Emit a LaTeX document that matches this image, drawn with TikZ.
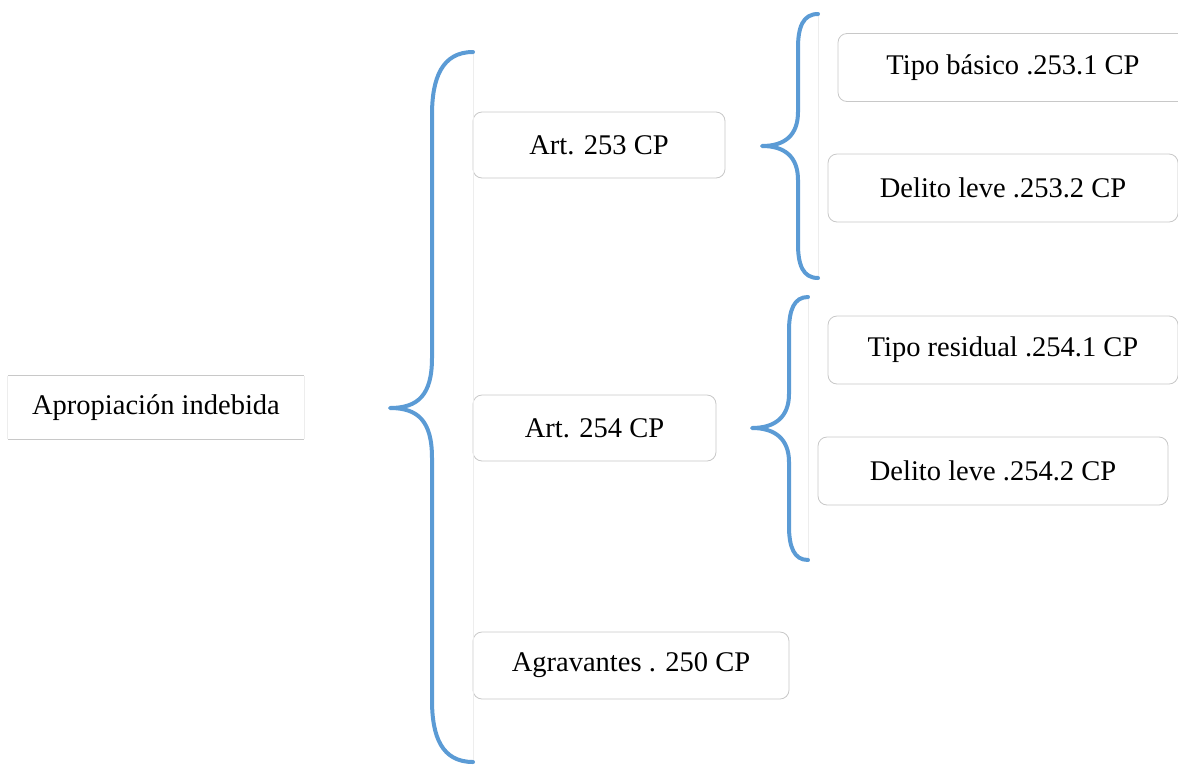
\documentclass[tikz,border=0pt]{standalone}
\usepackage{fontspec}
\setmainfont{Liberation Serif}
\definecolor{braceblue}{HTML}{5B9BD5}
\definecolor{boxline}{HTML}{C8C8C8}
\definecolor{guideline}{HTML}{EDEDED}
\begin{document}
\begin{tikzpicture}[x=1pt,y=-1pt,
  txt/.style={font=\fontsize{28.5}{32}\selectfont, text=black},
  item/.style={txt, draw=boxline, line width=0.8pt, rounded corners=9pt, fill=white, inner sep=0pt},
  curly/.style={draw=braceblue, line width=4pt, line cap=round, line join=round},
  guide/.style={draw=guideline, line width=1pt}]
\useasboundingbox (0,0) rectangle (1178,764);

% root label: open box with top and bottom rules
\node[txt, minimum width=296pt, minimum height=63pt, inner sep=0pt] (root) at (156,407.5) {Apropiación indebida};
\draw[guideline, line width=0.8pt] (root.north west) -- (root.south west) (root.north east) -- (root.south east);
\draw[boxline, line width=1pt] (root.north west) -- (root.north east) (root.south west) -- (root.south east);

% second level
\node[item, minimum width=252pt, minimum height=66pt] (a253) at (599,145) {Art. 253 CP};
\node[item, minimum width=243pt, minimum height=66pt] (a254) at (594.5,428) {Art. 254 CP};
\node[item, minimum width=316pt, minimum height=67pt] (agr) at (631,665.5) {Agravantes . 250 CP};

% third level
\node[item, minimum width=350pt, minimum height=68pt] (t1) at (1013,67.5) {Tipo básico .253.1 CP};
\node[item, minimum width=350pt, minimum height=68pt] (t2) at (1003,188) {Delito leve .253.2 CP};
\node[item, minimum width=350pt, minimum height=68pt] (t3) at (1003,350) {Tipo residual .254.1 CP};
\node[item, minimum width=350pt, minimum height=68pt] (t4) at (993,471) {Delito leve .254.2 CP};

% brace anchors
\coordinate (b0top) at (473,52);
\coordinate (b0bot) at (473,762);
\coordinate (b0tip) at (390,408);
\coordinate (b1top) at (818,14);
\coordinate (b1bot) at (818,278);
\coordinate (b1tip) at (762,146);
\coordinate (b2top) at (808,297);
\coordinate (b2bot) at (808,560);
\coordinate (b2tip) at (752,428);

% faint guides along the open side of each brace
\draw[guide] (b0top) -- (b0bot);
\draw[guide] (b1top) -- (b1bot);
\draw[guide] (b2top) -- (b2bot);

% main brace
\draw[curly] (b0top) .. controls (442,52) and (432,78) .. (432,115)
  -- (432,358) .. controls (432,395) and (418,408) .. (b0tip)
  .. controls (418,408) and (432,421) .. (432,458)
  -- (432,700) .. controls (432,737) and (442,762) .. (b0bot);

% brace for Art. 253
\draw[curly] (b1top) .. controls (803,14) and (798,27) .. (798,48)
  -- (798,112) .. controls (798,135) and (785,146) .. (b1tip)
  .. controls (785,146) and (798,157) .. (798,180)
  -- (798,244) .. controls (798,265) and (803,278) .. (b1bot);

% brace for Art. 254
\draw[curly] (b2top) .. controls (794,297) and (789,310) .. (789,331)
  -- (789,394) .. controls (789,417) and (775,428) .. (b2tip)
  .. controls (775,428) and (789,439) .. (789,462)
  -- (789,526) .. controls (789,547) and (794,560) .. (b2bot);
\end{tikzpicture}
\end{document}
